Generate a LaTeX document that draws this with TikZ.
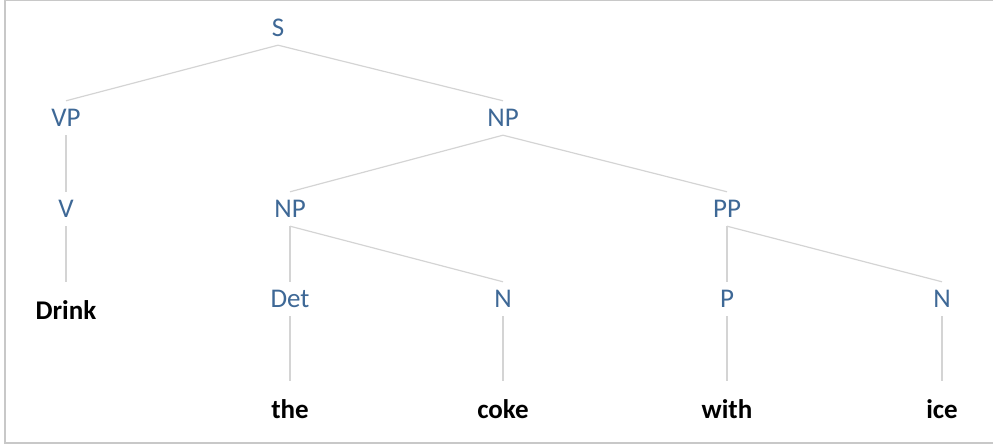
\documentclass[tikz,border=0pt]{standalone}
\usepackage{fontspec}
\setmainfont{Carlito}
\usepackage{tikz}
\definecolor{catblue}{RGB}{62,104,150}
\definecolor{edgegray}{RGB}{212,212,212}
\definecolor{framegray}{RGB}{200,200,200}
\tikzstyle{cat} = [text=catblue, inner sep=0pt, text height=17pt, text depth=0pt, minimum height=34pt, font=\fontsize{27}{31}\selectfont]
\tikzstyle{word} = [text=black, inner sep=0pt, text height=17pt, text depth=0pt, minimum height=34pt, outer ysep=12pt, font=\fontsize{27}{31}\selectfont\bfseries]
\tikzstyle{edge} = [draw=edgegray, line width=1.2pt]

\begin{document}
\begin{tikzpicture}[x=1pt, y=1pt, node distance=111pt]

\useasboundingbox (0,0) rectangle (993,446);
\draw [framegray, line width=1.5pt] (996,445.3) -- (5,445.3) -- (5,3) -- (996,3);

% phrase nodes
\node (s) [cat] at (278,418) {S};
\node (vp) [cat] at (66,328) {VP};
\node (np) [cat] at (503,328) {NP};
\node (v) [cat] at (66,237) {V};
\node (npsub) [cat] at (290,237) {NP};
\node (pp) [cat] at (727,237) {PP};
\node (det) [cat] at (290,147) {Det};
\node (n) [cat] at (503,147) {N};
\node (p) [cat] at (727,147) {P};
\node (nice) [cat] at (942,147) {N};

% words
\node (drink) [word] at (66,135) {Drink};
\node (the) [word, below of=det] {the};
\node (coke) [word, below of=n] {coke};
\node (with) [word, below of=p] {with};
\node (ice) [word, below of=nice] {ice};

\draw [edge] (s.south) -- (vp.north);
\draw [edge] (s.south) -- (np.north);
\draw [edge] (vp.south) -- (v.north);
\draw [edge] (v.south) -- (drink.north);
\draw [edge] (np.south) -- (npsub.north);
\draw [edge] (np.south) -- (pp.north);
\draw [edge] (npsub.south) -- (det.north);
\draw [edge] (npsub.south) -- (n.north);
\draw [edge] (pp.south) -- (p.north);
\draw [edge] (pp.south) -- (nice.north);
\draw [edge] (det.south) -- (the.north);
\draw [edge] (n.south) -- (coke.north);
\draw [edge] (p.south) -- (with.north);
\draw [edge] (nice.south) -- (ice.north);

\end{tikzpicture}
\end{document}
